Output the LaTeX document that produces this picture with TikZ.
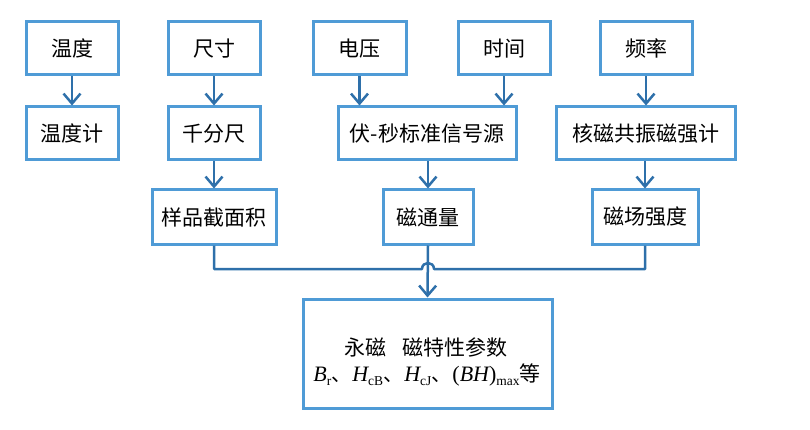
\documentclass[tikz,border=0pt]{standalone}
\usepackage{fontspec}
\setmainfont{Noto Sans CJK SC}
\newfontfamily\tnr{Liberation Serif}
\usetikzlibrary{arrows.meta}
\definecolor{boxblue}{RGB}{79,155,214}
\definecolor{linkblue}{RGB}{46,112,170}
\tikzset{
  box/.style={draw=boxblue, line width=3pt, fill=white, inner sep=0pt,
    font=\fontsize{21}{24}\selectfont, align=center},
  txt/.style={inner sep=0pt, font=\fontsize{21}{24}\selectfont},
  link/.style={draw=linkblue, line width=2.5pt},
  arr/.style={link, -{Straight Barb[length=10pt,width=17pt,line width=2.5pt]}}
}
\newcommand{\subtxt}[1]{{\tnr\fontsize{13.5}{15}\selectfont\raisebox{-3.5pt}{#1}}}
\newcommand{\latn}[1]{{\tnr\fontsize{22}{24}\selectfont #1}}
\newcommand{\dun}{{\fontsize{20}{24}\selectfont 、}\hspace{0.05em}}
\begin{document}
\begin{tikzpicture}[x=1pt,y=-1pt]
\useasboundingbox (0,0) rectangle (810,430);
% row 1
\node[box, minimum width=92pt, minimum height=53pt] (wd) at (72,48.5) {温度};
\node[box, minimum width=92pt, minimum height=53pt] (cc) at (214,48.5) {尺寸};
\node[box, minimum width=93pt, minimum height=53pt] (dy) at (359.5,48.5) {电压};
\node[box, minimum width=92pt, minimum height=53pt] (sj) at (504,48.5) {时间};
\node[box, minimum width=92pt, minimum height=53pt] (pl) at (646,48.5) {频率};
% row 2
\node[box, minimum width=92pt, minimum height=53pt] (wdj) at (72,133.5) {温度计};
\node[box, minimum width=92pt, minimum height=53pt] (qfc) at (214,133.5) {千分尺};
\node[box, minimum width=178pt, minimum height=53pt] (fm) at (427,133.5) {伏-秒标准信号源};
\node[box, minimum width=179pt, minimum height=53pt] (hc) at (645.5,133.5) {核磁共振磁强计};
% row 3
\node[box, minimum width=124pt, minimum height=54pt] (yp) at (214,217) {样品截面积};
\node[box, minimum width=90pt, minimum height=54pt] (ct) at (428,217) {磁通量};
\node[box, minimum width=106pt, minimum height=54pt] (cq) at (645,217) {磁场强度};
% bottom
\node[box, minimum width=249pt, minimum height=109pt] (res) at (427.5,353.5) {};
\node[txt] (res1) at (426,347) {永磁\hspace{0.8em}磁特性参数};
\node[txt] (res2) at (427,375)
  {\latn{\itshape B}\subtxt{r}\dun\latn{\itshape H}\subtxt{cB}\dun\latn{\itshape H}\subtxt{cJ}\dun\latn{(\itshape BH\upshape)}\subtxt{max}等};
% arrows
\draw[arr] (wd) -- (wdj);
\draw[arr] (cc) -- (qfc);
\draw[arr] (qfc) -- (yp);
\draw[arr] (dy.south) -- (dy.south |- fm.north);
\draw[arr] (sj.south) -- (sj.south |- fm.north);
\draw[arr] (fm.south -| ct.north) -- (ct.north);
\draw[arr] (pl) -- (pl |- hc.north);
\draw[arr] (hc.south -| cq.north) -- (cq.north);
% bus
\coordinate (bl) at (yp.south |- 0,269);
\coordinate (br) at (cq.south |- 0,269);
\coordinate (h1) at ([xshift=-6pt] ct.south |- bl);
\coordinate (h2) at ([xshift=6pt] ct.south |- bl);
\draw[link, line join=round] (yp.south) -- (bl) -- (h1)
  .. controls ([yshift=8pt]h1) and ([yshift=8pt]h2) .. (h2) -- (br) -- (cq.south);
\draw[arr] (ct.south) -- (res.north);
\end{tikzpicture}
\end{document}
